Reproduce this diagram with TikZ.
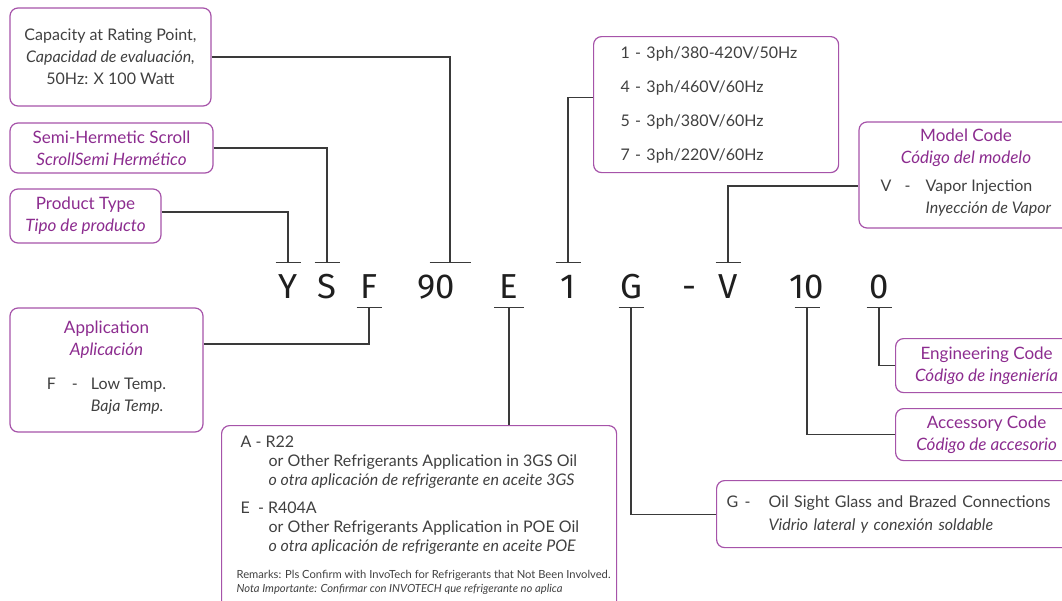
\documentclass[tikz,border=0pt]{standalone}
\usepackage{fontspec}
\setmainfont{Lato}
\newfontfamily\codefont{Fira Sans}
\usetikzlibrary{positioning,calc}

\definecolor{boxline}{HTML}{A653A9}
\definecolor{titletext}{HTML}{8C2C8F}
\definecolor{bodytext}{HTML}{404040}
\definecolor{wirec}{HTML}{3A3A3A}

% short bar over/under a code letter
\newcommand{\codebar}[2][12.5]{\draw[wire] ($(#2)+(-#1,0)$) -- ($(#2)+(#1,0)$);}
\newcommand{\ttlsize}{\fontsize{12.8}{16.5}\selectfont}

\begin{document}
\begin{tikzpicture}[x=0.75pt, y=-0.75pt,
  box/.style={draw=boxline, line width=0.9pt, rounded corners=6pt, text=bodytext,
    font=\fontsize{12}{16.5}\selectfont},
  titlebox/.style={box, text=titletext, font=\ttlsize, align=center},
  code/.style={font=\codefont\fontsize{26}{26}\selectfont, text=black!88, anchor=base,
    text height=26.25pt, text depth=6.75pt, inner sep=0pt},
  wire/.style={draw=wirec, line width=0.8pt}]
  \useasboundingbox (0,0) rectangle (1062,600);
  \clip (0,0) rectangle (1062,600);

  % code letters
  \foreach \name/\xpos/\txt in {Y/288/Y, S/327/S, F/369/F, 90/436/90, E/509/E, 1/568/1,
      G/631/G, dash/689/-, V/728/V, 10/807/10, 0/879/0}
    \node[code] (c\name) at (\xpos,298) {\txt};
  \coordinate (t90) at ($(c90.north)+(14,0)$);

  % boxes
  \node[box, minimum width=150.75pt, minimum height=73.5pt, align=center] (cap) at (110.5,57)
    {Capacity at Rating Point,\\\textit{Capacidad de evaluación,}\\50Hz: X 100 Watt};
  \node[titlebox, minimum width=152.25pt, minimum height=37.5pt] (semi) at (111.5,148)
    {Semi-Hermetic Scroll\\\textit{ScrollSemi Hermético}};
  \node[titlebox, minimum width=113.25pt, minimum height=40.5pt] (prod) at (85.5,216)
    {Product Type\\\textit{Tipo de producto}};
  \node[box, anchor=north west, text width=143.25pt, inner xsep=20.25pt, minimum height=102pt,
    align=left, font=\fontsize{12}{25.5}\selectfont] (volt) at (593,36)
    {1 - 3ph/380-420V/50Hz\\4 - 3ph/460V/60Hz\\5 - 3ph/380V/60Hz\\7 - 3ph/220V/60Hz};
  \node[box, minimum width=160.5pt, minimum height=79.5pt, align=center] (model) at (966,175)
    {\textcolor{titletext}{\ttlsize Model Code}\\\textcolor{titletext}{\ttlsize\textit{Código del modelo}}\\[4.5pt]
     \begin{tabular}[t]{@{}l@{}}\makebox[18pt][l]{V}\makebox[15.75pt][l]{-}Vapor Injection\\
       \hspace*{33.75pt}\textit{Inyección de Vapor}\end{tabular}};
  \node[box, minimum width=144.75pt, minimum height=93pt, align=center] (appl) at (106.5,370)
    {\textcolor{titletext}{\ttlsize Application}\\\textcolor{titletext}{\ttlsize\textit{Aplicación}}\\[9pt]
     \begin{tabular}[t]{@{}l@{}}\makebox[18.75pt][l]{F}\makebox[14.25pt][l]{-}Low Temp.\\
       \hspace*{33pt}\textit{Baja Temp.}\end{tabular}};
  \node[box, anchor=north west, inner xsep=3.75pt, inner ysep=8pt] (refr) at (221,425)
    {\parbox[t][150pt][t]{288.75pt}{\fontsize{12}{14.25}\selectfont
      \hspace*{10.5pt}A - R22\\
      \hspace*{31.5pt}or Other Refrigerants Application in 3GS Oil\\
      \hspace*{31.5pt}\textit{o otra aplicación de refrigerante en aceite 3GS}\\[6.75pt]
      \hspace*{10.5pt}E\ \ - R404A\\
      \hspace*{31.5pt}or Other Refrigerants Application in POE Oil\\
      \hspace*{31.5pt}\textit{o otra aplicación de refrigerante en aceite POE}\par\vspace{9.75pt}
      {\fontsize{8.4}{10.5}\selectfont \hspace*{7.5pt}Remarks: Pls Confirm with InvoTech for Refrigerants that Not Been Involved.\\
      \hspace*{7.5pt}\textit{Nota Importante: Confirmar con INVOTECH que refrigerante no aplica}\par}}};
  \node[box, anchor=north west, text width=254.25pt, inner xsep=7.5pt, minimum height=50.25pt,
    align=left, font=\fontsize{12}{17.25}\selectfont] (gbox) at (716,480)
    {\begin{tabular}{@{}l@{}}\makebox[13.5pt][l]{G}\makebox[18pt][l]{-}Oil Sight Glass and Brazed Connections\\
       \hspace*{31.5pt}\textit{Vidrio lateral y conexión soldable}\end{tabular}};
  \node[titlebox, anchor=north west, minimum width=136.5pt, minimum height=40.5pt] (eng) at (895,338)
    {Engineering Code\\\textit{Código de ingeniería}};
  \node[titlebox, anchor=north west, minimum width=136.5pt, minimum height=39pt] (acc) at (895,408)
    {Accessory Code\\\textit{Código de accesorio}};

  % bars at the letters
  \codebar{cY.north}
  \codebar{cS.north}
  \codebar[20.5]{t90}
  \codebar{c1.north}
  \codebar{cV.north}
  \codebar{cF.south}
  \codebar[15]{cE.south}
  \codebar{cG.south}
  \codebar{c10.south}
  \codebar{c0.south}

  % connectors
  \draw[wire] (cap.east) -| (t90);
  \draw[wire] (semi.east) -| (cS.north);
  \draw[wire] ($(prod.east)+(0,-4)$) -| (cY.north);
  \draw[wire] (c1.north) |- ($(volt.west)+(0,-7)$);
  \draw[wire] (cV.north) |- ($(model.west)+(0,11)$);
  \draw[wire] (cF.south) |- ($(appl.east)+(0,-26)$);
  \draw[wire] (cE.south) -- (cE.south |- refr.north);
  \draw[wire] (cG.south) |- (gbox.west);
  \draw[wire] (c10.south) |- (acc.west);
  \draw[wire] (c0.south) |- (eng.west);
\end{tikzpicture}
\end{document}
